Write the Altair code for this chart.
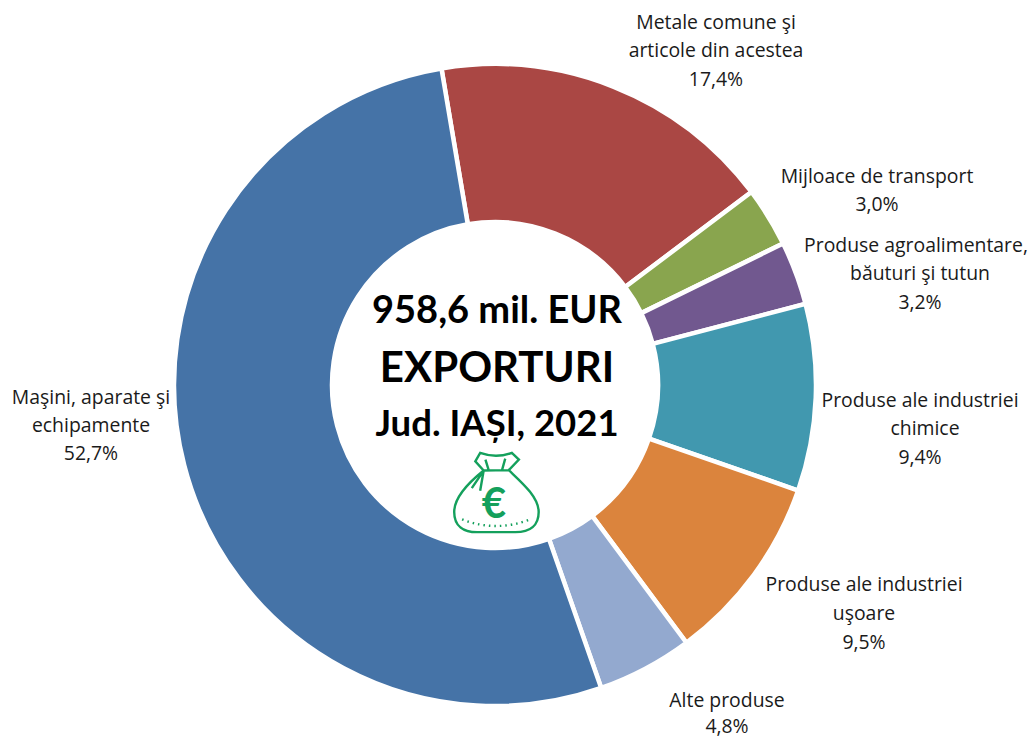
import math
import altair as alt
import pandas as pd

categories = ["Metale comune şi articole din acestea", "Mijloace de transport",
              "Produse agroalimentare, băuturi şi tutun", "Produse ale industriei chimice",
              "Produse ale industriei uşoare", "Alte produse", "Maşini, aparate şi echipamente"]
shares = [17.4, 3.0, 3.2, 9.4, 9.5, 4.8, 52.7]
colors = ["#AA4744", "#89A54E", "#71588F", "#4198AF", "#DB843D", "#93A9CF", "#4573A7"]

label_lines = [
    "Metale comune şi", "articole din acestea", "17,4%",
    "Mijloace de transport", "3,0%",
    "Produse agroalimentare,", "băuturi şi tutun", "3,2%",
    "Produse ale industriei", "chimice", "9,4%",
    "Produse ale industriei", "uşoare", "9,5%",
    "Alte produse", "4,8%",
    "Maşini, aparate şi", "echipamente", "52,7%",
]
label_x = [716, 716, 716, 877, 877, 916, 920, 920, 920, 925, 920, 864, 864, 864, 727, 727, 91, 91, 91]
label_y = [23, 51, 80, 177, 205, 246, 274, 303, 401, 429, 458, 585, 614, 643, 701, 727, 398, 426, 454]

center_lines = ["958,6 mil. EUR", "EXPORTURI", "Jud. IAȘI, 2021"]
center_sizes = [38, 42, 36.5]
center_y = [304, 361, 417]

W, H = 1020, 730
OFF = 8
CX, CY = 495 - OFF, 385 - OFF
start = math.radians(-9.6)

pie = pd.DataFrame({"cat": categories, "share": shares, "i": range(len(shares))})
arcs = alt.Chart(pie).mark_arc(outerRadius=321, innerRadius=163, stroke="white", strokeWidth=4.5).encode(
    theta=alt.Theta("share:Q", stack=True, scale=alt.Scale(domain=[0, 100], range=[start, start + 2 * math.pi])),
    order=alt.Order("i:Q"),
    color=alt.Color("cat:N", scale=alt.Scale(domain=categories, range=colors), legend=None),
    x=alt.value(CX), y=alt.value(CY),
)

lab = pd.DataFrame({"t": label_lines, "x": [v - OFF for v in label_x], "y": [v - OFF for v in label_y]})
labels = alt.Chart(lab).mark_text(font="Open Sans", fontSize=19.4, color="#1a1a1a", align="center", baseline="middle").encode(
    x=alt.X("x:Q", scale=None), y=alt.Y("y:Q", scale=None), text="t:N")

cen = pd.DataFrame({"t": center_lines, "s": center_sizes, "y": center_y})
center = alt.Chart(cen).mark_text(font="Lato", fontWeight="bold", color="black", align="center", baseline="middle").encode(
    x=alt.value(497 - OFF), y=alt.Y("y:Q", scale=None), text="t:N",
    size=alt.Size("s:Q", scale=None, legend=None))

BAG = ("M-.28,-.51 C-.58,-.27 -.95,.08 -.95,.43 C-.95,.76 -.73,.89 -.43,.89 L.44,.89 C.78,.89 .97,.73 .97,.43 "
       "C.97,.08 .55,-.27 .29,-.52 L-.28,-.51 L-.47,-.72 L-.36,-.91 Q0,-.78 .36,-.91 L.52,-.76 L.29,-.52 "
       "M-.24,-.76 L-.17,-.53 M.21,-.78 L.14,-.53 M-.28,-.51 L-.55,-.11 M-.28,-.51 L-.36,-.05")
DOTS = "M-.77,.6 Q0,.9 .78,.6"
GREEN = "#14A05C"
icon_df = pd.DataFrame({"n": [1]})
bag = alt.Chart(icon_df).mark_point(shape=BAG, size=7744, stroke=GREEN, strokeWidth=2.4, filled=False, opacity=1).encode(
    x=alt.value(496 - OFF), y=alt.value(493 - OFF))
dots = alt.Chart(icon_df).mark_point(shape=DOTS, size=7744, stroke=GREEN, strokeWidth=2.4, strokeDash=[1.5, 4], filled=False, opacity=1).encode(
    x=alt.value(496 - OFF), y=alt.value(493 - OFF))
euro = alt.Chart(pd.DataFrame({"t": ["€"]})).mark_text(font="Lato", fontWeight="bold", fontSize=42, color=GREEN, align="center", baseline="middle").encode(
    x=alt.value(494 - OFF), y=alt.value(505 - OFF), text="t:N")

chart = (arcs + labels + center + bag + dots + euro).properties(
    width=W, height=H, padding=0, autosize=alt.AutoSizeParams(type="none")
).configure_view(stroke=None)
chart.save("out.html", embed_options={"renderer": "svg", "actions": False})
